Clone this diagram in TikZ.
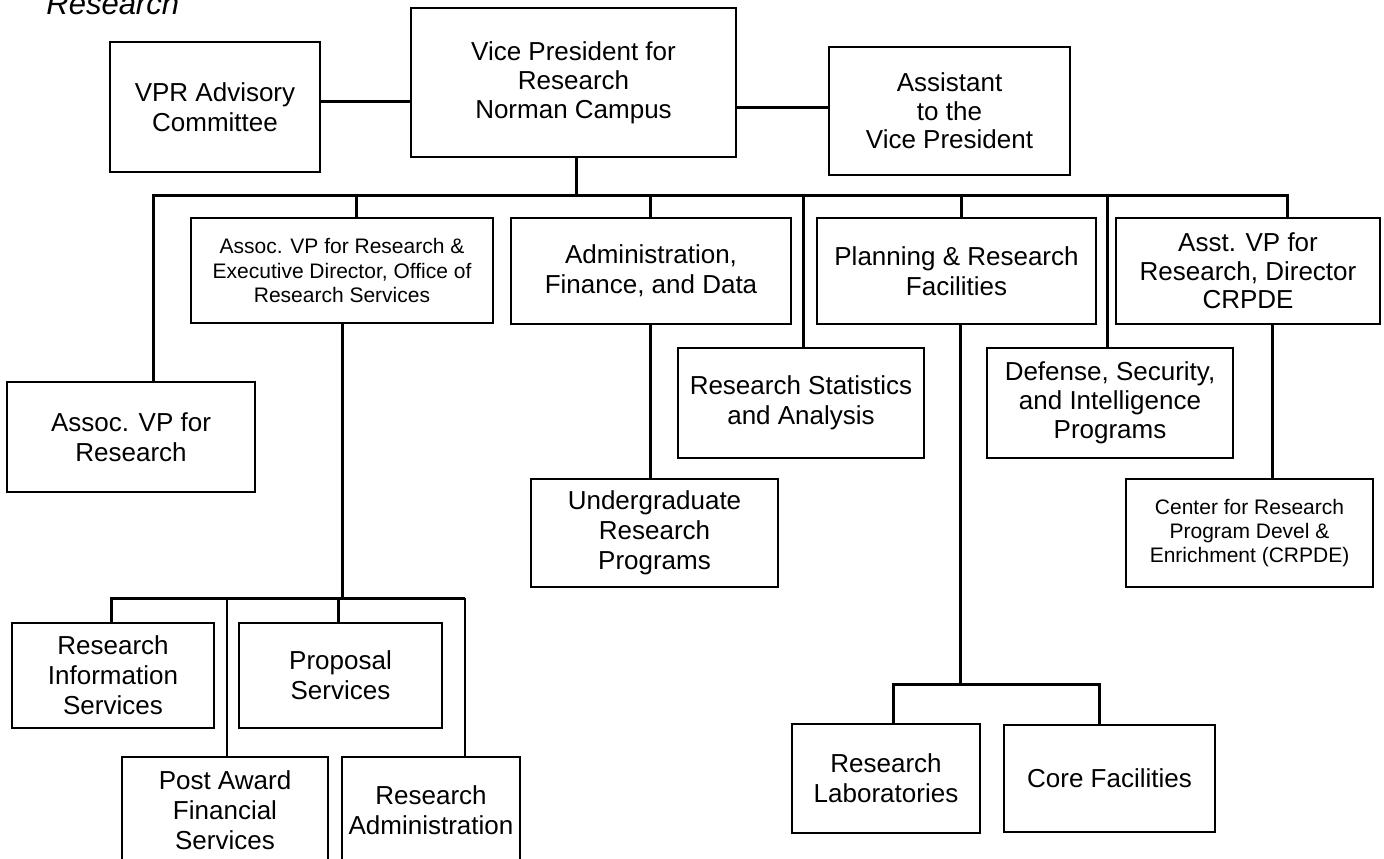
\documentclass[tikz,border=0pt]{standalone}
\usepackage{fontspec}
\setmainfont{Liberation Sans}
\tikzset{
  box/.style={draw=black, line width=1pt, inner sep=0pt, align=center, font=\fontsize{13}{15}\selectfont},
  smallbox/.style={font=\fontsize{10.5}{12.2}\selectfont},
  conn/.style={line width=1.5pt},
  thinconn/.style={line width=0.75pt},
  titletext/.style={inner sep=0pt, anchor=base west, font=\fontsize{15.5}{18}\selectfont\itshape}
}
% [opt]{x1}{y1}{x2}{y2}{name}{text}
\newcommand\orgbox[7][]{\node[box,#1, minimum width={(#4-#2)*0.5pt}, minimum height={(#5-#3)*0.5pt}] (#6) at ({(#2+#4)/2},{(#3+#5)/2}) {#7};}
\begin{document}
\begin{tikzpicture}[x=0.5pt,y=-0.5pt]
\useasboundingbox (0,0) rectangle (1384,858);
\fill[white] (0,0) rectangle (1384,858);
\clip (0,0) rectangle (1384,858);

\node[titletext] (title) at (46,14) {Research};

\orgbox{110}{42}{320}{172}{vpr}{VPR Advisory\\Committee}
\orgbox[font=\fontsize{13}{14.6}\selectfont]{411}{8}{736}{157}{vp}{Vice President for\\Research\\Norman Campus}
\orgbox[font=\fontsize{13}{14.2}\selectfont]{829}{47}{1070}{175}{asst}{Assistant\\to the\\Vice President}

\orgbox{7}{382}{255}{492}{avpr}{Assoc. VP for\\Research}
\orgbox[smallbox]{191}{218}{493}{323}{exec}{Assoc. VP for Research \&\\Executive Director, Office of\\Research Services}
\orgbox{511}{218}{791}{324}{admin}{Administration,\\Finance, and Data}
\orgbox{678}{348}{924}{458}{stats}{Research Statistics\\and Analysis}
\orgbox{817}{218}{1096}{324}{plan}{Planning \& Research\\Facilities}
\orgbox[font=\fontsize{13}{14.2}\selectfont]{1116}{218}{1380}{324}{asstvp}{Asst. VP for\\Research, Director\\CRPDE}
\orgbox{531}{479}{778}{587}{under}{Undergraduate\\Research\\Programs}
\orgbox[font=\fontsize{13}{14.6}\selectfont]{987}{348}{1233}{458}{defense}{Defense, Security,\\and Intelligence\\Programs}
\orgbox[smallbox]{1126}{479}{1373}{587}{center}{Center for Research\\Program Devel \&\\Enrichment (CRPDE)}
\orgbox{792}{724}{980}{833}{labs}{Research\\Laboratories}
\orgbox{1004}{725}{1215}{832}{core}{Core Facilities}
\orgbox{12}{623}{214}{728}{ris}{Research\\Information\\Services}
\orgbox{239}{623}{442}{728}{prop}{Proposal\\Services}
\orgbox{122}{757}{328}{863}{post}{Post Award\\Financial\\Services}
\orgbox{342}{757}{520}{863}{radmin}{Research\\Administration}

% top level
\draw[conn] (vpr.east |- 0,101) -- (vp.west |- 0,101);
\draw[conn] (vp.east |- 0,107) -- (asst.west |- 0,107);
\draw[conn] (576,0 |- vp.south) -- (576,195);
\draw[conn] (153,0 |- avpr.north) -- (153,195) -- (1287,195) -- (1287,0 |- asstvp.north);
\foreach \xx/\nn in {356/exec,650/admin,803/stats,961/plan,1107/defense}
  \draw[conn] (\xx,195) -- (\xx,0 |- \nn.north);

% second level
\draw[conn] (650,0 |- admin.south) -- (650,0 |- under.north);
\draw[conn] (1272,0 |- asstvp.south) -- (1272,0 |- center.north);
\draw[conn] (960,0 |- plan.south) -- (960,684);
\draw[conn] (893,0 |- labs.north) -- (893,684) -- (1099,684) -- (1099,0 |- core.north);

% research services
\draw[conn] (342,0 |- exec.south) -- (342,598);
\draw[conn] (111,0 |- ris.north) -- (111,598) -- (465,598);
\draw[conn] (338,598) -- (338,0 |- prop.north);
\draw[thinconn] (227,598) -- (227,0 |- post.north);
\draw[thinconn] (465,598) -- (465,0 |- radmin.north);
\end{tikzpicture}
\end{document}
